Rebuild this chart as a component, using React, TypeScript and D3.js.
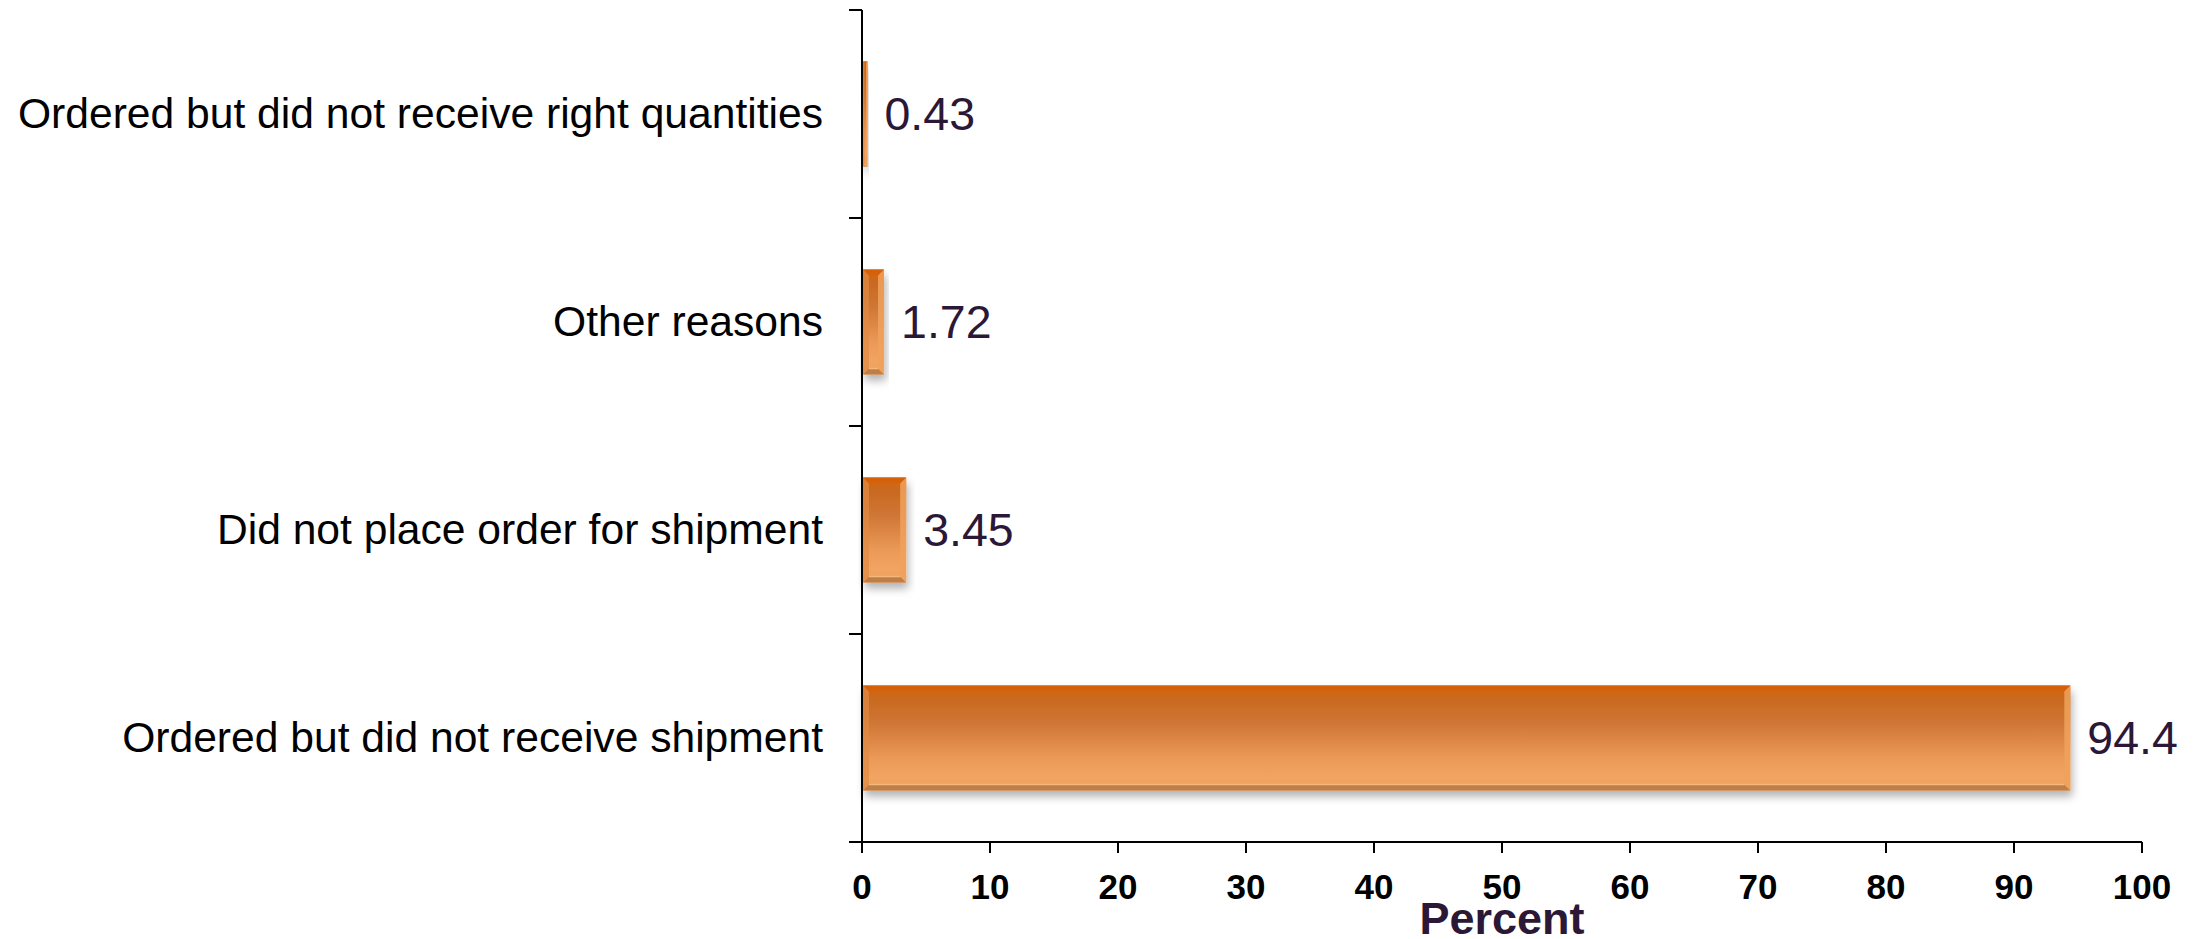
import React from "react";
import * as d3 from "d3";

const categories = [
  "Ordered but did not receive right quantities",
  "Other reasons",
  "Did not place order for shipment",
  "Ordered but did not receive shipment",
];
const values = [0.43, 1.72, 3.45, 94.4];
const valueLabels = ["0.43", "1.72", "3.45", "94.4"];
const xTicks = [0, 10, 20, 30, 40, 50, 60, 70, 80, 90, 100];
const xTitle = "Percent";

const W = 2203;
const H = 939;
const X0 = 862;
const X1 = 2142;
const Y0 = 10;
const Y1 = 842;

export default function App() {
  const x = d3.scaleLinear().domain([0, 100]).range([X0, X1]);
  const y = d3
    .scaleBand<string>()
    .domain(categories)
    .range([Y0, Y1])
    .paddingInner(0.495)
    .paddingOuter(0.2475);
  const step = y.step();
  const bw = y.bandwidth();
  const bevel = 6;

  return (
    <svg
      width={W}
      height={H}
      style={{ position: "absolute", left: 0, top: 0, background: "#fff" }}
      fontFamily="Liberation Sans, Arial, sans-serif"
    >
      <defs>
        <linearGradient id="barGrad" x1="0" y1="0" x2="0" y2="1">
          <stop offset="0" stopColor="#D8650C" />
          <stop offset="0.12" stopColor="#C9691F" />
          <stop offset="0.35" stopColor="#CF7535" />
          <stop offset="0.7" stopColor="#EC9A58" />
          <stop offset="0.88" stopColor="#F2A462" />
          <stop offset="1" stopColor="#E9A060" />
        </linearGradient>
        <filter id="shadow" x="-10%" y="-20%" width="130%" height="160%">
          <feDropShadow dx="2" dy="6" stdDeviation="4" floodColor="#000" floodOpacity="0.3" />
        </filter>
      </defs>

      {categories.map((c, i) => {
        const bx = x(0) + 1;
        const by = y(c)!;
        const bwid = Math.max(x(values[i]) - x(0) - 1, 2);
        const b = Math.min(bevel, bwid / 3);
        const xr = bx + bwid;
        const yb = by + bw;
        return (
          <g key={c}>
            <rect x={bx} y={by} width={bwid} height={bw} fill="url(#barGrad)" filter="url(#shadow)" />
            <polygon
              points={`${bx},${by} ${xr},${by} ${xr - b},${by + b} ${bx + b},${by + b}`}
              fill="#D4600A"
              opacity={0.9}
            />
            <polygon
              points={`${bx},${yb} ${xr},${yb} ${xr - b},${yb - b} ${bx + b},${yb - b}`}
              fill="#B97A45"
              opacity={0.9}
            />
            <polygon
              points={`${bx},${by} ${bx + b},${by + b} ${bx + b},${yb - b} ${bx},${yb}`}
              fill="#E08A45"
              opacity={0.7}
            />
            <polygon
              points={`${xr},${by} ${xr - b},${by + b} ${xr - b},${yb - b} ${xr},${yb}`}
              fill="#F0A25C"
              opacity={0.85}
            />
            <line x1={bx + b} x2={xr - b} y1={yb - b} y2={yb - b} stroke="#F7B77A" strokeWidth={1.5} />
            <text
              x={x(values[i]) + 17}
              y={by + bw / 2}
              dy="0.35em"
              fontSize={46.5}
              fill="#2B1836"
            >
              {valueLabels[i]}
            </text>
          </g>
        );
      })}

      <line x1={X0} x2={X0} y1={Y0} y2={Y1} stroke="#000" strokeWidth={2} />
      {d3.range(categories.length + 1).map((k) => {
        const ty = Y0 + k * step;
        return <line key={k} x1={X0 - 13} x2={X0} y1={ty} y2={ty} stroke="#000" strokeWidth={2} />;
      })}
      {categories.map((c) => (
        <text
          key={c}
          x={823}
          y={y(c)! + bw / 2}
          dy="0.34em"
          textAnchor="end"
          fontSize={42.6}
          fill="#000"
        >
          {c}
        </text>
      ))}

      <line x1={X0 - 13} x2={X1} y1={Y1} y2={Y1} stroke="#000" strokeWidth={2} />
      {xTicks.map((t) => (
        <g key={t}>
          <line x1={x(t)} x2={x(t)} y1={Y1} y2={Y1 + 11} stroke="#000" strokeWidth={2} />
          <text x={x(t)} y={899} textAnchor="middle" fontSize={35} fontWeight="bold" fill="#000">
            {t}
          </text>
        </g>
      ))}
      <text x={(X0 + X1) / 2} y={934} textAnchor="middle" fontSize={45} fontWeight="bold" fill="#2B1836">
        {xTitle}
      </text>
    </svg>
  );
}
